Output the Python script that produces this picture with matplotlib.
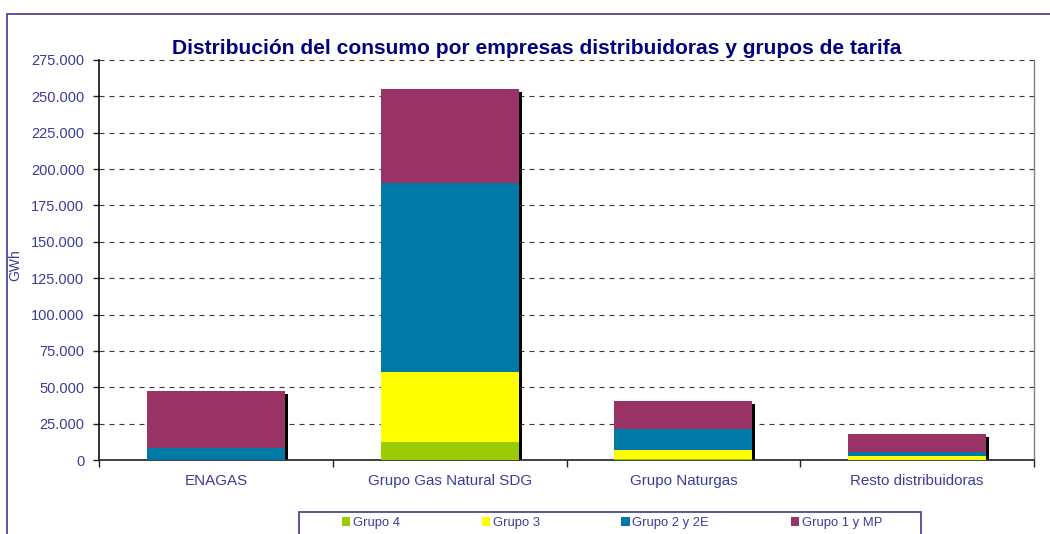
import matplotlib
matplotlib.use("Agg")
import matplotlib.pyplot as plt
import matplotlib.transforms as mtransforms
from matplotlib.patches import Rectangle
from matplotlib.ticker import FuncFormatter, FixedLocator
import numpy as np

plt.rcParams['font.family'] = ['Liberation Sans', 'DejaVu Sans']

categories = ["ENAGAS", "Grupo Gas Natural SDG", "Grupo Naturgas", "Resto distribuidoras"]
series_names = ["Grupo 4", "Grupo 3", "Grupo 2 y 2E", "Grupo 1 y MP"]
grupo4 = [0, 12500, 900, 300]
grupo3 = [0, 48300, 5800, 2700]
grupo2 = [8200, 129900, 14400, 2800]
grupo1 = [39300, 64300, 19400, 12000]
colors = ["#99CC00", "#FFFF00", "#0079A6", "#993366"]

title = "Distribución del consumo por empresas distribuidoras y grupos de tarifa"
ylabel = "GWh"

W, H = 1050, 534
fig = plt.figure(figsize=(W / 100, H / 100), dpi=100)
ax = fig.add_axes([99 / W, 1 - 460 / H, (1034 - 99) / W, (460 - 60) / H])

text_color = "#3B3B9E"

x = np.arange(len(categories))
width = 0.59
series = [grupo4, grupo3, grupo2, grupo1]
totals = np.sum(series, axis=0)

# shadow
shadow_tr = ax.transData + mtransforms.ScaledTranslation(3 / 100, -3 / 100, fig.dpi_scale_trans)
ax.bar(x, totals, width, color="black", transform=shadow_tr, zorder=2)

bottom = np.zeros(len(categories))
handles = []
for vals, c, name in zip(series, colors, series_names):
    b = ax.bar(x, vals, width, bottom=bottom, color=c, label=name, zorder=3)
    handles.append(b)
    bottom += np.array(vals)

ax.set_xlim(-0.5, 3.5)
ax.set_ylim(0, 275000)
ax.set_yticks(np.arange(0, 275001, 25000))
ax.yaxis.set_major_formatter(FuncFormatter(lambda v, p: "0" if v == 0 else f"{int(v):,}".replace(",", ".")))
ax.yaxis.grid(True, color="#383838", linestyle=(0, (4.5, 4.5)), linewidth=0.8, zorder=0)
ax.set_axisbelow(True)

ax.set_xticks(x)
ax.set_xticklabels(categories)
ax.xaxis.set_minor_locator(FixedLocator([-0.5, 0.5, 1.5, 2.5, 3.5]))
ax.tick_params(axis="x", which="major", length=0, pad=10, labelsize=10.9, labelcolor=text_color)
ax.tick_params(axis="x", which="minor", length=5, width=1, color="#202020", direction="out")
ax.tick_params(axis="y", length=4.5, width=1, color="#202020", pad=6, labelsize=10.5, labelcolor=text_color)

ax.spines["top"].set_visible(False)
ax.spines["left"].set_color("#101010")
ax.spines["left"].set_linewidth(1.2)
ax.spines["bottom"].set_color("#202020")
ax.spines["bottom"].set_linewidth(1.2)
ax.spines["right"].set_color("#808080")
ax.spines["right"].set_linewidth(1.0)

ax.set_ylabel(ylabel, color=text_color, fontsize=10)
ax.yaxis.set_label_coords(-0.082, 0.4875)

fig.text(536.5 / W, 1 - 49 / H, title, ha="center", va="center", fontsize=15.1,
         fontweight="bold", color="#000080")

# outer chart border
fig.patches.append(Rectangle((7 / W, -0.1), 1.2, 1 - 14 / H + 0.1, transform=fig.transFigure,
                             fill=False, edgecolor="#3B3B8E", linewidth=1.2))
# legend box
fig.patches.append(Rectangle((299 / W, -0.1), (921 - 299) / W, 1 - 512 / H + 0.1,
                             transform=fig.transFigure, fill=False, edgecolor="#3B3B8E", linewidth=1.2))

fig.legend(handles, series_names, loc="center", bbox_to_anchor=(612 / W, 1 - 523 / H), ncol=4,
           frameon=False, fontsize=9.4, labelcolor=text_color, handlelength=0.65, handleheight=0.65,
           handletextpad=0.2, columnspacing=6.25, borderpad=0)

fig.savefig("out.png", dpi=100)
